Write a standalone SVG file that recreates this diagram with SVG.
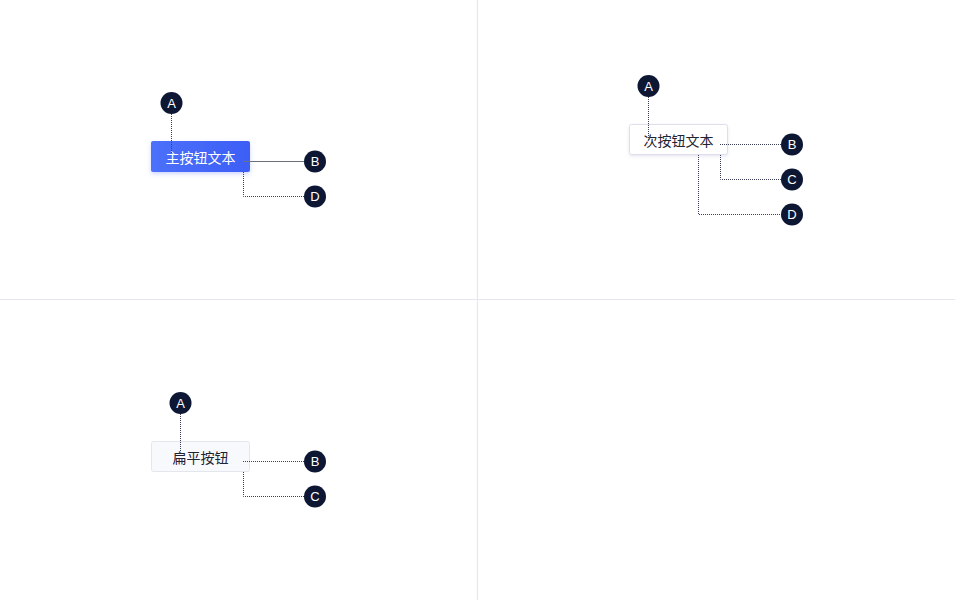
<svg xmlns="http://www.w3.org/2000/svg" width="955" height="600" viewBox="0 0 955 600">
<defs>
<linearGradient id="blue" x1="0" y1="0" x2="1" y2="0">
<stop offset="0" stop-color="#4c70fa"/>
<stop offset="1" stop-color="#3d5ef6"/>
</linearGradient>
<filter id="sh" x="-20%" y="-30%" width="140%" height="170%">
<feDropShadow dx="0" dy="2" stdDeviation="2" flood-color="#3d5ef6" flood-opacity="0.25"/>
</filter>
<filter id="sh2" x="-20%" y="-30%" width="140%" height="170%">
<feDropShadow dx="0" dy="1.5" stdDeviation="1.5" flood-color="#8890b0" flood-opacity="0.2"/>
</filter>
</defs>
<style>
.grid{stroke:#e6e7f2;stroke-width:1.2;fill:none}
.badge circle{fill:#0d1633}
.badge text{fill:#ffffff;font-family:"Liberation Sans",Arial,sans-serif;font-size:13px;text-anchor:middle;dominant-baseline:central}
.lbl{font-family:"Noto Sans CJK SC","Noto Sans",sans-serif;font-size:14px;text-anchor:middle;dominant-baseline:central}
.dot{stroke:#3a3f55;stroke-width:1;fill:none;stroke-dasharray:1 1}
.solid{stroke:#6b6f80;stroke-width:1;fill:none}
</style>
<g id="grid">
<line class="grid" x1="477.5" y1="0" x2="477.5" y2="600"/>
<line class="grid" x1="0" y1="299.5" x2="955" y2="299.5"/>
</g>
<g id="primary-button">
<rect x="151" y="141" width="99" height="31" rx="2" fill="url(#blue)" filter="url(#sh)"/>
<text class="lbl" x="200.5" y="157" fill="#ffffff">主按钮文本</text>
</g>
<g id="secondary-button">
<rect x="629.5" y="124.5" width="98" height="30" rx="2" fill="#ffffff" stroke="#dde0ea" filter="url(#sh2)"/>
<text class="lbl" x="678.5" y="140" fill="#1f2333">次按钮文本</text>
</g>
<g id="flat-button">
<rect x="151.5" y="441.5" width="98" height="30" rx="2" fill="#f8f9fc" stroke="#e4e6ee"/>
<text class="lbl" x="200.5" y="457" fill="#1f2333">扁平按钮</text>
</g>
<g id="connectors">
<polyline class="dot" points="171.5,114 171.5,153"/>
<polyline class="solid" points="243,161.5 304,161.5"/>
<polyline class="dot" points="243.5,172 243.5,196.5 304,196.5"/>
<polyline class="dot" points="648.5,97 648.5,141"/>
<polyline class="dot" points="720,144.5 781,144.5"/>
<polyline class="dot" points="720.5,155 720.5,179.5 781,179.5"/>
<polyline class="dot" points="698.5,155 698.5,214.5 781,214.5"/>
<polyline class="dot" points="180.5,414 180.5,451"/>
<polyline class="dot" points="243,461.5 304,461.5"/>
<polyline class="dot" points="243.5,472 243.5,496.5 304,496.5"/>
</g>
<g id="p-A" class="badge"><circle cx="171.5" cy="103" r="11"/><text x="171.5" y="103">A</text></g>
<g id="p-B" class="badge"><circle cx="315" cy="161.5" r="11"/><text x="315" y="161.5">B</text></g>
<g id="p-D" class="badge"><circle cx="315" cy="196.5" r="11"/><text x="315" y="196.5">D</text></g>
<g id="s-A" class="badge"><circle cx="648.5" cy="86" r="11"/><text x="648.5" y="86">A</text></g>
<g id="s-B" class="badge"><circle cx="792" cy="144.5" r="11"/><text x="792" y="144.5">B</text></g>
<g id="s-C" class="badge"><circle cx="792" cy="179.5" r="11"/><text x="792" y="179.5">C</text></g>
<g id="s-D" class="badge"><circle cx="792" cy="214.5" r="11"/><text x="792" y="214.5">D</text></g>
<g id="f-A" class="badge"><circle cx="180.5" cy="403" r="11"/><text x="180.5" y="403">A</text></g>
<g id="f-B" class="badge"><circle cx="315" cy="461.5" r="11"/><text x="315" y="461.5">B</text></g>
<g id="f-C" class="badge"><circle cx="315" cy="496.5" r="11"/><text x="315" y="496.5">C</text></g>
</svg>
